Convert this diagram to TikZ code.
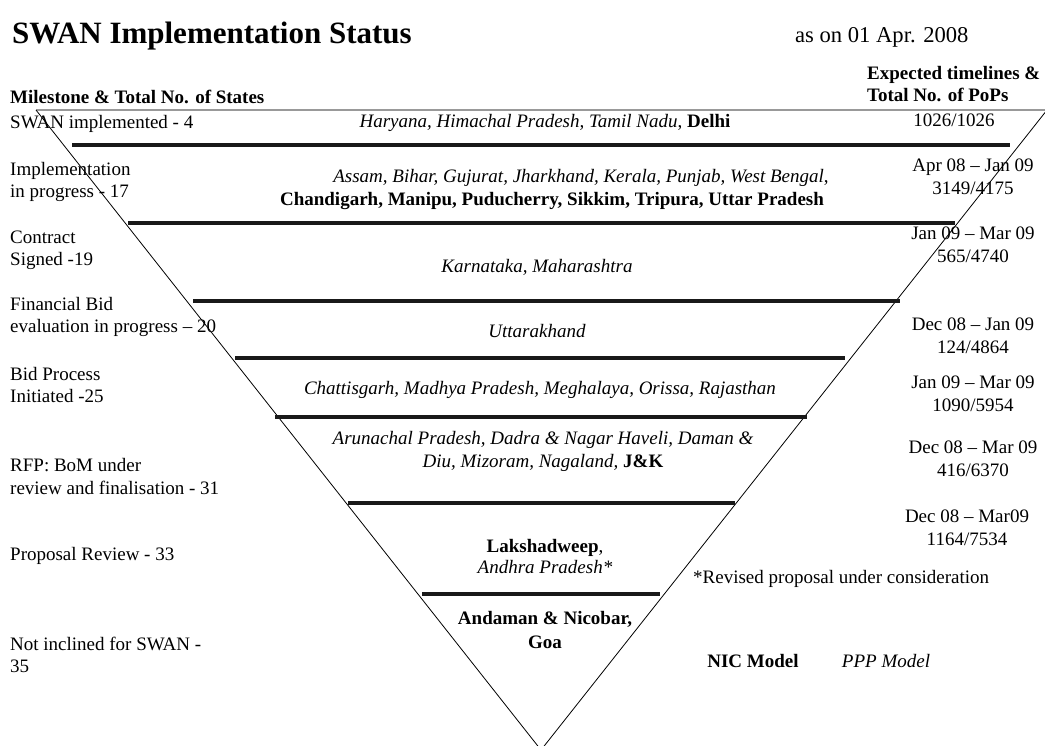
\documentclass[tikz,border=0pt]{standalone}
\usepackage{fontspec}
\setmainfont{Liberation Serif}
\tikzset{
  row_lbl/.style = {anchor=base west, align=left, inner sep=0pt, font=\fontsize{19}{22.5}\selectfont},
  head_lbl/.style = {row_lbl, font=\fontsize{19}{22}\selectfont\bfseries},
  pop_lbl/.style = {anchor=base, align=center, inner sep=0pt, font=\fontsize{19}{22.5}\selectfont},
  tri_txt/.style = {anchor=base, align=center, inner sep=0pt, font=\fontsize{19}{23.5}\selectfont},
  bar/.style = {line width=4pt, black!90},
  edge_ln/.style = {line width=0.8pt, black},
  top_ln/.style = {line width=1.5pt, black!40}
}

\begin{document}
\begin{tikzpicture}[x=1pt,y=-1pt]
\useasboundingbox (0,0) rectangle (1045,745);
\clip (0,0) rectangle (1045,745);
\coordinate (tl) at (36,110);
\coordinate (tr) at (1047,110);
\coordinate (apex) at (541,750);
\draw[top_ln] (tl) -- (tr);
\draw[edge_ln] (tl) -- (apex) -- (tr);
\foreach \y/\xa/\xb in {145/72/1010, 223/128/955, 301/193/900, 358/235/845,
                        417/275/807, 503/348/735, 594/422/660}
  \draw[bar] (\xa,\y) -- (\xb,\y);

\node (title) [anchor=base west, inner sep=0pt, font=\fontsize{31}{31}\selectfont\bfseries] at (12,43) {SWAN Implementation Status};
\node (date) [anchor=base west, inner sep=0pt, font=\fontsize{22.6}{24}\selectfont] at (795,42) {as on 01 Apr. 2008};

\node (mhead) [head_lbl] at (10,103) {Milestone \& Total No. of States};
\node (phead) [head_lbl] at (867,101) {Expected timelines \&\\Total No. of PoPs};

\node (m1) [row_lbl] at (10,128) {SWAN implemented - 4};
\node (m2) [row_lbl] at (10,197.5) {Implementation\\in progress - 17};
\node (m3) [row_lbl] at (10,265.5) {Contract\\Signed -19};
\node (m4) [row_lbl] at (10,332.5) {Financial Bid\\evaluation in progress – 20};
\node (m5) [row_lbl] at (10,402.5) {Bid Process\\Initiated -25};
\node (m6) [row_lbl] at (10,494) {RFP: BoM under\\review and finalisation - 31};
\node (m7) [row_lbl] at (10,560) {Proposal Review - 33};
\node (m8) [row_lbl] at (10,672.5) {Not inclined for SWAN -\\35};

\node (s1) [tri_txt] at (545,127) {\textit{Haryana, Himachal Pradesh, Tamil Nadu}, \textbf{Delhi}};
\node (s2a) [tri_txt] at (581,182) {\textit{Assam, Bihar, Gujurat, Jharkhand, Kerala, Punjab, West Bengal},};
\node (s2b) [tri_txt] at (552,205) {\textbf{Chandigarh, Manipu, Puducherry, Sikkim, Tripura, Uttar Pradesh}};
\node (s3) [tri_txt] at (537,272) {\textit{Karnataka, Maharashtra}};
\node (s4) [tri_txt] at (537,337) {\textit{Uttarakhand}};
\node (s5) [tri_txt] at (540,394) {\textit{Chattisgarh, Madhya Pradesh, Meghalaya, Orissa, Rajasthan}};
\node (s6) [tri_txt] at (543,467.5) {\textit{Arunachal Pradesh, Dadra \& Nagar Haveli, Daman \&}\\\textit{Diu, Mizoram, Nagaland,} \textbf{J\&K}};
\node (s7) [tri_txt, font=\fontsize{19}{21}\selectfont] at (545,573) {\textbf{Lakshadweep},\\\textit{Andhra Pradesh*}};
\node (s8) [tri_txt, font=\fontsize{19}{23.5}\selectfont\bfseries] at (545,648) {Andaman \& Nicobar,\\Goa};

\node (p1) [pop_lbl] at (954,126) {1026/1026};
\node (p2) [pop_lbl] at (973,194) {Apr 08 – Jan 09\\3149/4175};
\node (p3) [pop_lbl] at (973,262) {Jan 09 – Mar 09\\565/4740};
\node (p4) [pop_lbl] at (973,353) {Dec 08 – Jan 09\\124/4864};
\node (p5) [pop_lbl] at (973,411) {Jan 09 – Mar 09\\1090/5954};
\node (p6) [pop_lbl] at (973,476) {Dec 08 – Mar 09\\416/6370};
\node (p7) [pop_lbl] at (967,545) {Dec 08 – Mar09\\1164/7534};

\node (note) [row_lbl] at (693,583) {*Revised proposal under consideration};
\node (nic) [pop_lbl, font=\fontsize{19}{22.5}\selectfont\bfseries] at (753,667) {NIC Model};
\node (ppp) [pop_lbl, font=\fontsize{19}{22.5}\selectfont\itshape] at (886,667) {PPP Model};
\end{tikzpicture}
\end{document}
